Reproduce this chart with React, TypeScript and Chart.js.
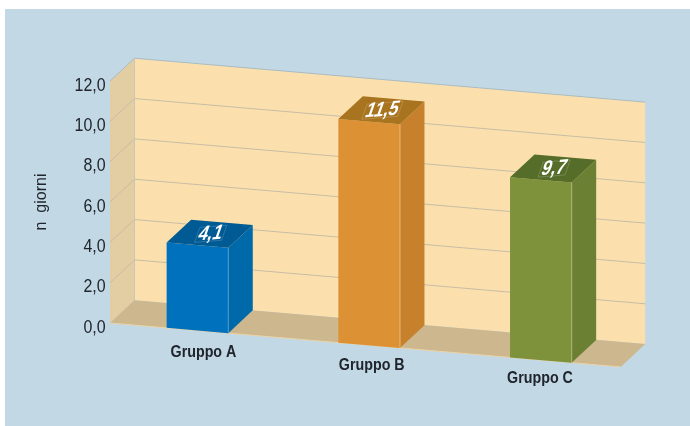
import React, { useEffect, useRef } from "react";
import { Chart, registerables } from "chart.js";

Chart.register(...registerables);

const categories = ["Gruppo A", "Gruppo B", "Gruppo C"];
// Bar heights as read against the axis in the picture; the figure's printed labels differ slightly.
const barHeights = [4.23, 11.09, 8.93];
const printedLabels = ["4,1", "11,5", "9,7"];
const frontColors = ["#0071bc", "#dc9234", "#7d923b"];
const sideColors = ["#0069a9", "#c7812c", "#6c8034"];
const topColors = ["#005a94", "#a9741f", "#556d29"];
const edgeColors = ["#4d9bd0", "#e9b878", "#a9b873"];

const FONT = '"Liberation Sans", sans-serif';
const SLOPE = 0.086;
const DX = 24.5;
const DY = -22.8;
const FLOOR_X0 = 110;
const FLOOR_X1 = 620.7;
const NARROW = 0.84;

const floorY = (bottom: number, x: number) => bottom + SLOPE * (x - FLOOR_X0);

function poly(ctx: CanvasRenderingContext2D, pts: number[][], fill?: string, stroke?: string, lw = 1) {
  ctx.beginPath();
  pts.forEach((p, i) => (i ? ctx.lineTo(p[0], p[1]) : ctx.moveTo(p[0], p[1])));
  if (fill) {
    ctx.closePath();
    ctx.fillStyle = fill;
    ctx.fill();
  }
  if (stroke) {
    ctx.strokeStyle = stroke;
    ctx.lineWidth = lw;
    ctx.stroke();
  }
}

// the figure's axis lettering is condensed: draw a scale's labels horizontally squeezed
function condense(scale: any, ctx: CanvasRenderingContext2D) {
  const original = scale.drawLabels;
  scale._computeLabelArea = () => undefined;
  scale.drawLabels = function (area: any) {
    ctx.save();
    ctx.scale(NARROW, 1);
    original.call(scale, area);
    ctx.restore();
  };
}

const stagePlugin = {
  id: "stage",
  beforeDraw(chart: any) {
    const { ctx, chartArea, scales } = chart;
    const y = scales.y;
    const top = chartArea.top;
    const bottom = chartArea.bottom;
    const h = bottom - top;

    y.getLabelItems().forEach((it: any) => {
      it.options.translation[1] += 4.3;
      it.options.translation[0] /= NARROW;
    });
    scales.x.getLabelItems().forEach((it: any) => {
      const tx = it.options.translation;
      const cx = tx[0];
      tx[0] = (cx + 6 - (cx - 197.5) * 0.02) / NARROW;
      tx[1] = 342.5 + (cx - 197.5) * 0.0757;
    });
    condense(y, ctx);
    condense(scales.x, ctx);

    ctx.save();
    ctx.fillStyle = "#c2d9e5";
    ctx.fillRect(5, 9, 685, 417);

    const fl = (x: number) => floorY(bottom, x);
    const a = [FLOOR_X0, bottom];
    const b = [FLOOR_X1, fl(FLOOR_X1)];
    const aB = [a[0] + DX, a[1] + DY];
    const bB = [b[0] + DX, b[1] + DY];
    poly(ctx, [aB, bB, [bB[0], bB[1] - h], [aB[0], aB[1] - h]], "#fbe0ae");
    poly(ctx, [a, aB, [aB[0], aB[1] - h], [a[0], a[1] - h]], "#e3cda2");
    poly(ctx, [a, b, bB, aB], "#ccb78f");
    poly(ctx, [a, b], undefined, "#ecd3a4", 1);

    y.ticks.forEach((_t: any, i: number) => {
      const py = y.getPixelForTick(i);
      if (py >= bottom - 0.5) return;
      const first = i === y.ticks.length - 1;
      poly(ctx, [[a[0], py], [aB[0], py + DY], [bB[0], py + DY + (bB[1] - aB[1])]], undefined, first ? "#a9bcc4" : "#c8bda4", 1);
    });
    poly(ctx, [aB, [aB[0], aB[1] - h]], undefined, "#c9c6b8", 1);
    ctx.restore();
  },
  beforeDatasetDraw(chart: any) {
    const { ctx } = chart;
    ctx.save();
    ctx.translate(FLOOR_X0, 0);
    ctx.transform(1, SLOPE, 0, 1, 0, 0);
    ctx.translate(-FLOOR_X0, 0);
  },
  afterDatasetDraw(chart: any, args: any) {
    const { ctx, chartArea } = chart;
    ctx.restore();
    const bottom = chartArea.bottom;
    args.meta.data.forEach((bar: any, i: number) => {
      const p = bar.getProps(["x", "y", "base", "width"], true);
      const l = p.x - p.width / 2;
      const r = p.x + p.width / 2;
      const off = (x: number) => SLOPE * (x - FLOOR_X0);
      const tl = [l, p.y + off(l)];
      const tr = [r, p.y + off(r)];
      const br = [r, floorY(bottom, r)];
      poly(ctx, [tr, [tr[0] + DX, tr[1] + DY], [br[0] + DX, br[1] + DY], br], sideColors[i]);
      poly(ctx, [tl, tr, [tr[0] + DX, tr[1] + DY], [tl[0] + DX, tl[1] + DY]], topColors[i]);
      poly(ctx, [tr, br], undefined, edgeColors[i], 1);

      const cx = (l + r) / 2 + DX / 2 + 1;
      const cy = (tl[1] + tr[1]) / 2 + DY / 2;
      ctx.save();
      ctx.translate(cx, cy);
      ctx.transform(1, -0.08, -0.35, 1, 0, 0);
      ctx.strokeStyle = "rgba(255,255,255,0.22)";
      ctx.lineWidth = 0.7;
      const tw = printedLabels[i].length > 3 ? 36 : 27;
      ctx.strokeRect(-tw / 2, -7.5, tw, 15);
      ctx.scale(0.82, 1);
      ctx.fillStyle = "#ffffff";
      ctx.font = `bold 21px ${FONT}`;
      ctx.textAlign = "center";
      ctx.textBaseline = "middle";
      ctx.fillText(printedLabels[i], 0, 0);
      ctx.restore();
    });
  },
};

export default function App() {
  const ref = useRef<HTMLCanvasElement>(null);
  useEffect(() => {
    const chart = new Chart(ref.current as HTMLCanvasElement, {
      type: "bar",
      data: {
        labels: categories,
        datasets: [
          {
            data: barHeights,
            backgroundColor: frontColors,
            borderWidth: 0,
            barPercentage: 1,
            categoryPercentage: 0.359,
            clip: false,
          } as any,
        ],
      },
      options: {
        animation: false,
        responsive: false,
        devicePixelRatio: 1,
        layout: { padding: { top: 81, right: 63.3, left: 0, bottom: 0 } },
        plugins: { legend: { display: false }, title: { display: false }, tooltip: { enabled: false } },
        scales: {
          x: {
            grid: { display: false, drawTicks: false },
            border: { display: false },
            ticks: {
              autoSkip: false,
              maxRotation: 0,
              color: "#20242c",
              font: { family: FONT, size: 17, weight: "bold" },
            },
            afterFit: (s: any) => {
              s.height = 103;
            },
          },
          y: {
            min: 0,
            max: 12,
            grid: { display: false, drawTicks: false },
            border: { display: false },
            title: {
              display: true,
              text: "n  giorni",
              color: "#20242c",
              font: { family: FONT, size: 16 },
              padding: { top: 32, bottom: 0 },
            },
            ticks: {
              stepSize: 2,
              padding: 6,
              color: "#20242c",
              font: { family: FONT, size: 19 },
              callback: (v: any) => Number(v).toFixed(1).replace(".", ","),
            },
            afterFit: (s: any) => {
              s.width = 111.6;
            },
          },
        },
      },
      plugins: [stagePlugin],
    } as any);
    return () => chart.destroy();
  }, []);
  return (
    <canvas
      ref={ref}
      width={690}
      height={426}
      style={{ position: "fixed", left: 0, top: 0, display: "block", background: "#ffffff" }}
    />
  );
}
